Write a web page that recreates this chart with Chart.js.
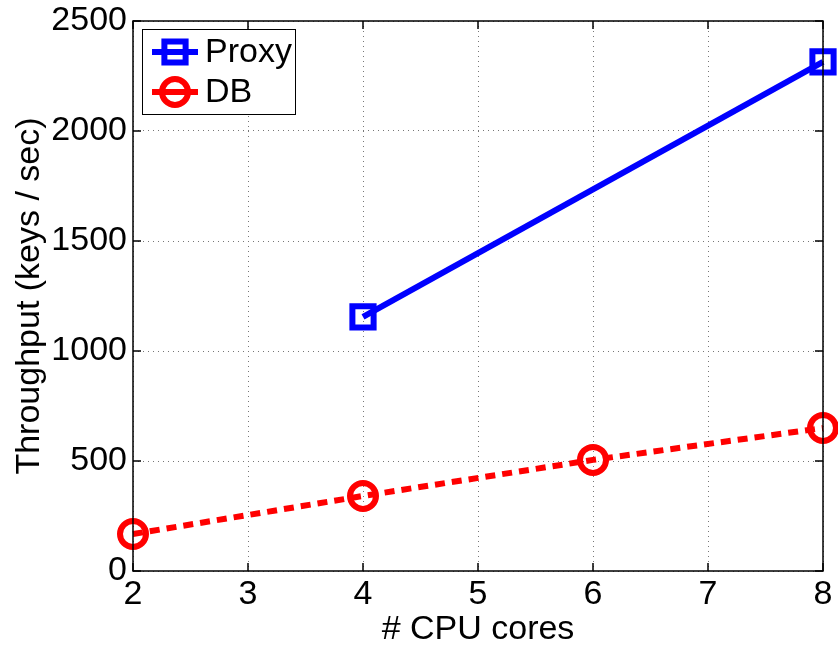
<!DOCTYPE html>
<html>
<head>
<meta charset="utf-8">
<script src="https://cdn.jsdelivr.net/npm/chart.js@4"></script>
<style>
  html, body { margin: 0; padding: 0; background: #fff; }
  #wrap { width: 838px; height: 650px; }
</style>
</head>
<body>
<div id="wrap"><canvas id="c" width="838" height="650"></canvas></div>
<script>
// values
const cores = [2, 4, 6, 8];
const proxyCores = [4, 8];
const proxyThroughput = [1155, 2314];
const dbThroughput = [168, 341, 505, 650];
const xTicks = [2, 3, 4, 5, 6, 7, 8];
const yTicks = [0, 500, 1000, 1500, 2000, 2500];

const FONT = 'Liberation Sans, Arial, Helvetica, sans-serif';
const FS = 34;

// frame, inward ticks and the legend box, MATLAB style
const framePlugin = {
  id: 'frame',
  afterDraw(chart) {
    const { ctx, chartArea: a, scales } = chart;
    ctx.save();
    ctx.strokeStyle = '#000';
    ctx.lineWidth = 1.5;
    ctx.setLineDash([]);
    ctx.strokeRect(a.left, a.top, a.right - a.left, a.bottom - a.top);
    const tl = 8;
    ctx.beginPath();
    xTicks.forEach(v => {
      const px = scales.x.getPixelForValue(v);
      ctx.moveTo(px, a.bottom); ctx.lineTo(px, a.bottom - tl);
      ctx.moveTo(px, a.top); ctx.lineTo(px, a.top + tl);
    });
    yTicks.forEach(v => {
      const py = scales.y.getPixelForValue(v);
      ctx.moveTo(a.left, py); ctx.lineTo(a.left + tl, py);
      ctx.moveTo(a.right, py); ctx.lineTo(a.right - tl, py);
    });
    ctx.stroke();

    // legend
    const bx = 142, by = 29, bw = 153, bh = 85;
    ctx.fillStyle = '#fff';
    ctx.fillRect(bx, by, bw, bh);
    ctx.lineWidth = 1;
    ctx.strokeRect(bx + 0.5, by + 0.5, bw, bh);
    const rowsY = [52, 92];
    chart.data.datasets.forEach((ds, i) => {
      const y = rowsY[i];
      ctx.strokeStyle = ds.borderColor;
      ctx.lineWidth = ds.borderWidth;
      ctx.setLineDash([]);
      ctx.beginPath();
      ctx.moveTo(152, y); ctx.lineTo(198, y);
      ctx.stroke();
      ctx.fillStyle = 'rgba(0,0,0,0)';
      ctx.lineWidth = ds.pointBorderWidth;
      Chart.helpers.drawPoint(ctx, {
        pointStyle: ds.pointStyle, radius: ds.pointRadius,
        borderWidth: ds.pointBorderWidth, rotation: 0
      }, 175, y);
      ctx.fillStyle = '#000';
      ctx.font = FS + 'px ' + FONT;
      ctx.textBaseline = 'middle';
      ctx.textAlign = 'left';
      ctx.fillText(ds.label, 205, y + 1);
    });
    ctx.restore();
  }
};

new Chart(document.getElementById('c'), {
  type: 'line',
  data: {
    datasets: [
      {
        label: 'Proxy',
        data: proxyCores.map((x, i) => ({ x, y: proxyThroughput[i] })),
        borderColor: '#0000ff',
        backgroundColor: 'transparent',
        borderWidth: 6,
        pointStyle: 'rect',
        pointRadius: 15,
        pointBorderWidth: 6,
        pointBorderColor: '#0000ff',
        pointBackgroundColor: 'transparent',
        clip: false
      },
      {
        label: 'DB',
        data: cores.map((x, i) => ({ x, y: dbThroughput[i] })),
        borderColor: '#ff0000',
        backgroundColor: 'transparent',
        borderWidth: 6,
        borderDash: [10, 7],
        pointStyle: 'circle',
        pointRadius: 13,
        pointBorderWidth: 6,
        pointBorderColor: '#ff0000',
        pointBackgroundColor: 'transparent',
        clip: false
      }
    ]
  },
  options: {
    responsive: false,
    animation: false,
    layout: { autoPadding: false, padding: { left: 0, right: 15, top: 21, bottom: 0 } },
    plugins: { legend: { display: false }, tooltip: { enabled: false } },
    scales: {
      x: {
        type: 'linear', min: 2, max: 8,
        afterBuildTicks: s => { s.ticks = xTicks.map(v => ({ value: v })); },
        afterFit: s => { s.height = 79; s.paddingLeft = 0; s.paddingRight = 0; },
        ticks: { color: '#000', font: { family: FONT, size: FS }, padding: 3, maxRotation: 0, callback: v => String(v) },
        grid: { color: '#777', lineWidth: 1, drawTicks: false },
        border: { display: false, dash: [1, 4] },
        title: { display: true, text: '# CPU cores', color: '#000', font: { family: FONT, size: FS }, padding: { top: 0, bottom: 0 } }
      },
      y: {
        min: 0, max: 2500,
        afterBuildTicks: s => { s.ticks = yTicks.map(v => ({ value: v })); },
        afterFit: s => { s.width = 133; s.paddingTop = 0; s.paddingBottom = 0; },
        ticks: { color: '#000', font: { family: FONT, size: FS }, padding: 6, callback: v => String(v) },
        grid: { color: '#777', lineWidth: 1, drawTicks: false },
        border: { display: false, dash: [1, 4] },
        title: { display: true, text: 'Throughput (keys / sec)', color: '#000', font: { family: FONT, size: FS }, padding: { top: 9, bottom: 0 } }
      }
    }
  },
  plugins: [framePlugin]
});
</script>
</body>
</html>
